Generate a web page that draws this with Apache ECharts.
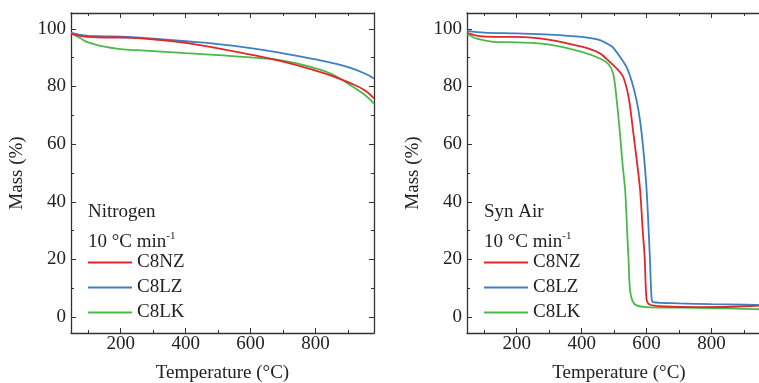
<!DOCTYPE html>
<html>
<head>
<meta charset="utf-8">
<script src="https://cdn.jsdelivr.net/npm/echarts@6/dist/echarts.min.js"></script>
<style>html,body{margin:0;padding:0;background:#fff}#c{width:759px;height:383px}</style>
</head>
<body>
<div id="c"></div>
<script>
// ---- data ----
const seriesNames = ['C8NZ', 'C8LZ', 'C8LK'];
const panelTitles = ['Nitrogen', 'Syn Air'];
const rateLabel = '10 °C min';
const rateSup = '-1';
const xTicks = [200, 400, 600, 800];
const xMinor = [100, 300, 500, 700, 900];
const yTicks = [0, 20, 40, 60, 80, 100];
const yMinor = [10, 30, 50, 70, 90];

// Nitrogen panel
const n2_NZ_T = [47, 75, 100, 150, 200, 250, 300, 400, 500, 600, 700, 800, 850, 900, 950, 980];
const n2_NZ_V = [98.3, 97.6, 97.2, 97.0, 97.0, 96.8, 96.4, 95.1, 93.2, 91.1, 88.6, 85.5, 83.7, 81.5, 78.8, 75.9];
const n2_LZ_T = [47, 75, 100, 150, 200, 250, 300, 400, 500, 600, 700, 800, 850, 900, 950, 980];
const n2_LZ_V = [98.6, 97.9, 97.6, 97.4, 97.3, 97.0, 96.6, 95.7, 94.7, 93.3, 91.5, 89.4, 88.2, 86.7, 84.6, 82.8];
const n2_LK_T = [47, 75, 100, 150, 200, 250, 300, 400, 500, 600, 700, 800, 850, 900, 950, 980];
const n2_LK_V = [98.6, 96.8, 95.3, 93.8, 93.0, 92.6, 92.3, 91.6, 90.9, 90.1, 89.0, 86.3, 84.3, 81.0, 77.2, 74.1];

// Syn Air panel
const air_NZ_T = [47, 80, 128, 200, 297, 400, 456, 487, 510, 528, 545, 559, 570, 580, 588, 594, 600, 610, 660, 760, 865, 980];
const air_NZ_V = [98.6, 97.6, 97.2, 97.2, 96.3, 93.8, 91.5, 88.5, 86.0, 83.3, 76.0, 64.0, 54.0, 44.0, 30.0, 20.8, 6.0, 4.3, 3.7, 3.5, 3.6, 4.2];
const air_LZ_T = [47, 100, 200, 300, 400, 456, 487, 497, 520, 538, 555, 569, 580, 590, 600, 610, 615, 620, 700, 800, 900, 980];
const air_LZ_V = [99.3, 98.7, 98.4, 98.0, 97.2, 96.1, 94.3, 93.5, 90.0, 86.8, 81.5, 75.2, 68.0, 58.0, 44.0, 20.8, 7.0, 5.2, 4.8, 4.5, 4.3, 4.1];
const air_LK_T = [47, 80, 128, 200, 297, 400, 456, 482, 497, 508, 518, 526, 534, 540, 544, 549, 557, 569, 600, 700, 800, 900, 980];
const air_LK_V = [98.2, 96.5, 95.5, 95.3, 94.6, 92.0, 89.7, 87.8, 84.5, 75.2, 63.7, 53.0, 44.0, 30.0, 20.8, 9.3, 5.5, 4.1, 3.5, 3.3, 3.1, 2.9, 2.6];

// ---- styling / build ----
const colors = ['#e3262d', '#3d7fc1', '#4db84a'];
const FONT = 'Liberation Serif';
const FS = 19;
const TXT = '#222';
const LINE = '#333';
const yMin = -5.5, yMax = 105.5;

// right panel is cut off by the picture edge in the reference
const panels = [
  { grid: { left: 71, top: 13, width: 303, height: 320 }, xMin: 47, xMax: 980, rightAxis: true, namePad: 0, smooth: 0.5, lx: 88 },
  { grid: { left: 467, top: 13, width: 292, height: 320 }, xMin: 47, xMax: 946, rightAxis: false, namePad: 12, smooth: 0.3, lx: 484 }
];

function pairs(t, v) { return t.map((x, i) => [x, v[i]]); }
const panelData = [
  [pairs(n2_NZ_T, n2_NZ_V), pairs(n2_LZ_T, n2_LZ_V), pairs(n2_LK_T, n2_LK_V)],
  [pairs(air_NZ_T, air_NZ_V), pairs(air_LZ_T, air_LZ_V), pairs(air_LK_T, air_LK_V)]
];

const xAxis = [], yAxis = [], series = [], title = [], legend = [], grid = [];
panels.forEach((p, gi) => {
  grid.push(Object.assign({ containLabel: false, outerBoundsMode: 'none' }, p.grid));
  const base = (pos, vals, len, main, label, name) => ({
    type: 'value', gridIndex: gi, position: pos, min: p.xMin, max: p.xMax,
    axisLine: { show: main, onZero: false, lineStyle: { color: LINE, width: 1.3 } },
    axisTick: { show: true, inside: true, length: len, customValues: vals, lineStyle: { color: LINE, width: 1 } },
    axisLabel: label ? { show: true, customValues: xTicks, fontFamily: FONT, fontSize: FS, color: TXT, margin: 2 } : { show: false },
    splitLine: { show: false },
    name: name || '', nameLocation: 'middle', nameGap: 31,
    nameTextStyle: { fontFamily: FONT, fontSize: FS, color: TXT, padding: [0, 0, 0, p.namePad] }
  });
  const xi = xAxis.length;
  xAxis.push(base('bottom', xTicks, 5, true, true, 'Temperature (°C)'));
  xAxis.push(base('bottom', xMinor, 3, false, false));
  xAxis.push(base('top', xTicks, 5, true, false));
  xAxis.push(base('top', xMinor, 3, false, false));

  const ybase = (pos, vals, len, main, label, name) => ({
    type: 'value', gridIndex: gi, position: pos, min: yMin, max: yMax, show: pos === 'left' || p.rightAxis,
    axisLine: { show: main, onZero: false, lineStyle: { color: LINE, width: 1.3 } },
    axisTick: { show: true, inside: true, length: len, customValues: vals, lineStyle: { color: LINE, width: 1 } },
    axisLabel: label ? { show: true, customValues: yTicks, fontFamily: FONT, fontSize: FS, color: TXT, margin: 5 } : { show: false },
    splitLine: { show: false },
    name: name || '', nameLocation: 'middle', nameGap: 44, nameRotate: 90,
    nameTextStyle: { fontFamily: FONT, fontSize: FS, color: TXT }
  });
  const yi = yAxis.length;
  yAxis.push(ybase('left', yTicks, 5, true, true, 'Mass (%)'));
  yAxis.push(ybase('left', yMinor, 3, false, false));
  yAxis.push(ybase('right', yTicks, 5, true, false));
  yAxis.push(ybase('right', yMinor, 3, false, false));

  seriesNames.forEach((n, si) => {
    series.push({
      type: 'line', name: n, xAxisIndex: xi, yAxisIndex: yi,
      data: panelData[gi][si], showSymbol: false, symbol: 'none',
      smooth: p.smooth,
      lineStyle: { color: colors[si], width: 1.8 }, itemStyle: { color: colors[si] },
      z: 2 + (2 - si)
    });
  });

  title.push({
    text: panelTitles[gi], left: p.lx, top: 203, padding: 0,
    textStyle: { fontFamily: FONT, fontSize: FS, fontWeight: 'normal', color: TXT }
  });
  title.push({
    text: '{b|' + rateLabel + '}{s|' + rateSup + '}', left: p.lx, top: 231, padding: 0,
    textStyle: {
      fontFamily: FONT, fontSize: FS, fontWeight: 'normal', color: TXT,
      rich: {
        b: { fontFamily: FONT, fontSize: FS, color: TXT, lineHeight: 22 },
        s: { fontFamily: FONT, fontSize: 11, color: TXT, verticalAlign: 'top', lineHeight: 22 }
      }
    }
  });
  legend.push({
    data: seriesNames, orient: 'vertical', left: p.lx, top: 253, padding: 0,
    icon: 'rect', itemWidth: 44, itemHeight: 2, itemGap: 6, selectedMode: false,
    textStyle: { fontFamily: FONT, fontSize: FS, color: TXT, padding: [0, 0, 0, 0] }
  });
});

const chart = echarts.init(document.getElementById('c'), null, { renderer: 'canvas' });
chart.setOption({
  animation: false,
  backgroundColor: '#fff',
  grid, xAxis, yAxis, series, title, legend
});
</script>
</body>
</html>
